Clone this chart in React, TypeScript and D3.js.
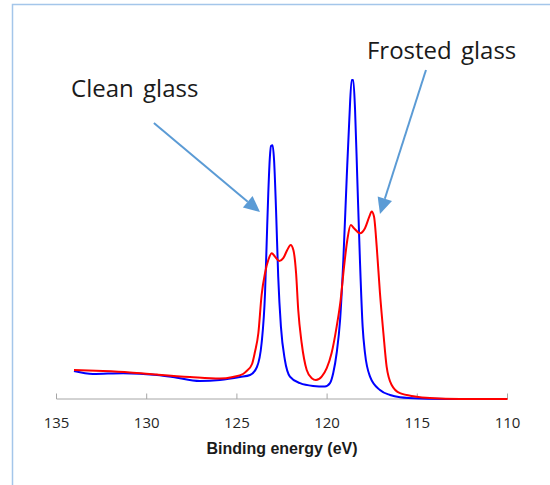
import React from "react";
import * as d3 from "d3";

const xTicks = [135, 130, 125, 120, 115, 110];

const cleanEnergy = [134.03, 132.98, 131.31, 129.43, 128.54, 127.05, 125.94, 124.83, 124.27, 123.89, 123.63, 123.44, 123.35, 123.26, 123.17, 123.11, 123.02, 122.94, 122.83, 122.71, 122.56, 122.34, 122.06, 121.5, 120.78, 120.12, 119.84, 119.66, 119.47, 119.28, 119.1, 118.91, 118.77, 118.64, 118.55, 118.45, 118.33, 118.18, 118.03, 117.9, 117.62, 117.07, 116.51, 115.96, 114.85, 112.63];
const cleanCounts = [1.4, 1.25, 1.29, 1.2, 1.1, 0.9, 0.95, 1.1, 1.2, 1.6, 2.8, 5.3, 7.8, 10.3, 12.12, 12.65, 12.69, 11.95, 9.45, 6.12, 3.62, 1.95, 1.12, 0.79, 0.65, 0.62, 0.79, 1.3, 2.3, 3.95, 6.95, 11.12, 13.95, 15.95, 15.95, 14.45, 11.12, 6.95, 3.62, 2.3, 1.12, 0.45, 0.2, 0.09, 0.03, 0.0];

const frostedEnergy = [134.03, 132.42, 130.93, 129.43, 127.6, 125.94, 125.22, 124.66, 124.46, 124.16, 124.0, 123.81, 123.63, 123.44, 123.26, 123.07, 122.89, 122.65, 122.43, 122.21, 122.02, 121.87, 121.72, 121.6, 121.41, 121.13, 120.85, 120.62, 120.3, 120.02, 119.75, 119.47, 119.25, 119.06, 118.88, 118.69, 118.51, 118.18, 117.9, 117.66, 117.53, 117.4, 117.25, 117.07, 116.88, 116.7, 116.42, 115.96, 115.13, 114.3, 112.63, 110.0];
const frostedCounts = [1.45, 1.4, 1.33, 1.22, 1.1, 1.02, 1.1, 1.25, 1.4, 1.75, 2.35, 3.3, 5.2, 6.3, 6.95, 7.29, 7.12, 6.9, 7.04, 7.45, 7.7, 7.45, 6.3, 4.45, 2.8, 1.45, 1.04, 0.95, 1.12, 1.54, 2.3, 3.62, 4.95, 6.62, 7.95, 8.7, 8.54, 8.29, 8.54, 9.12, 9.37, 9.12, 7.62, 5.3, 3.3, 1.62, 0.7, 0.29, 0.13, 0.05, 0.0, 0.0];

const labelNames = ["Clean glass", "Frosted glass"];
const labelEnergy = [134.19, 117.79];
const labelCounts = [15.1, 17.0];
const arrowFromEnergy = [129.6, 114.52];
const arrowFromCounts = [13.8, 16.45];
const arrowToEnergy = [123.72, 117.07];
const arrowToCounts = [9.35, 9.25];

export default function App() {
  const W = 550;
  const H = 485;
  const x = d3.scaleLinear().domain([135, 110]).range([56.5, 507.5]);
  const y = d3.scaleLinear().domain([0, 16]).range([399, 79]);

  const line = d3
    .line<[number, number]>()
    .x((d) => x(d[0]))
    .y((d) => y(d[1]))
    .curve(d3.curveMonotoneX);

  const clean: [number, number][] = cleanEnergy.map((e, i) => [e, cleanCounts[i]]);
  const frosted: [number, number][] = frostedEnergy.map((e, i) => [e, frostedCounts[i]]);

  const arrowColor = "#5b9bd5";

  const arrows = labelNames.map((_, i) => {
    const x1 = x(arrowFromEnergy[i]);
    const y1 = y(arrowFromCounts[i]);
    const x2 = x(arrowToEnergy[i]);
    const y2 = y(arrowToCounts[i]);
    const dx = x2 - x1;
    const dy = y2 - y1;
    const len = Math.sqrt(dx * dx + dy * dy);
    const ux = dx / len;
    const uy = dy / len;
    const headLen = 16;
    const headHalf = 7.5;
    const bx = x2 - ux * headLen;
    const by = y2 - uy * headLen;
    const p1 = [bx - uy * headHalf, by + ux * headHalf];
    const p2 = [bx + uy * headHalf, by - ux * headHalf];
    return { x1, y1, bx, by, x2, y2, p1, p2 };
  });

  const axisY = y(0);

  return (
    <svg
      width={W}
      height={H}
      style={{ position: "absolute", left: 0, top: 0, background: "#fff" }}
    >
      <rect x={0} y={0} width={W} height={H} fill="#fff" />
      <rect
        x={12.5}
        y={4.5}
        width={700}
        height={700}
        fill="none"
        stroke="#a4c6ea"
        strokeWidth={1.5}
      />

      <line x1={x(135)} x2={x(110)} y1={axisY} y2={axisY} stroke="#a6a6a6" strokeWidth={1} />
      {xTicks.map((t) => (
        <g key={t}>
          <line x1={x(t)} x2={x(t)} y1={axisY - 5.5} y2={axisY} stroke="#a6a6a6" strokeWidth={1} />
          <text
            x={x(t)}
            y={428}
            textAnchor="middle"
            fontFamily="'Open Sans', sans-serif"
            fontSize={15}
            fill="#262626"
          >
            {t}
          </text>
        </g>
      ))}
      <text
        x={(x(135) + x(110)) / 2}
        y={453.5}
        textAnchor="middle"
        fontFamily="'Liberation Sans', Arial, sans-serif"
        fontWeight="bold"
        fontSize={16}
        fill="#1a1a1a"
      >
        Binding energy (eV)
      </text>

      <path d={line(clean) || ""} fill="none" stroke="#0000ff" strokeWidth={2} strokeLinejoin="round" />
      <path d={line(frosted) || ""} fill="none" stroke="#ff0000" strokeWidth={2} strokeLinejoin="round" />

      {labelNames.map((name, i) => (
        <text
          key={name}
          x={x(labelEnergy[i])}
          y={y(labelCounts[i])}
          fontFamily="'Open Sans', sans-serif"
          fontSize={24}
          fill="#1a1a1a"
          wordSpacing={3}
        >
          {name}
        </text>
      ))}
      {arrows.map((a, i) => (
        <g key={i}>
          <line x1={a.x1} y1={a.y1} x2={a.bx} y2={a.by} stroke={arrowColor} strokeWidth={2} />
          <polygon
            points={`${a.x2},${a.y2} ${a.p1[0]},${a.p1[1]} ${a.p2[0]},${a.p2[1]}`}
            fill={arrowColor}
          />
        </g>
      ))}
    </svg>
  );
}
